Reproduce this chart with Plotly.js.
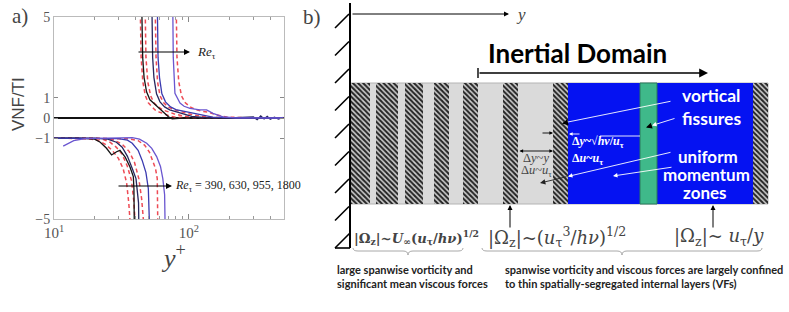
<!DOCTYPE html>
<html><head><meta charset="utf-8">
<script src="https://cdn.plot.ly/plotly-3.0.1.min.js"></script>
<style>html,body{margin:0;padding:0;background:#fff}#chart{width:789px;height:312px}</style>
</head><body><div id="chart"></div>
<script>
// ---------- Panel a data: VNF/TI vs y+ ----------
const reTau = [390, 630, 955, 1800];
const xTickVals = [10, 100];
const xTickText = ['10<sup>1</sup>', '10<sup>2</sup>'];
const yTickVals = [-5, -1, 0, 1, 5];
const yTickText = ['\u22125', '\u22121', '0', '1', '5'];

// upper branch (solid)
const upX390 = [44.0, 44.6, 45.4, 46.5, 48.5, 51.4, 54.5, 57.6, 61, 64.6, 70.4, 75, 90, 120, 200, 300, 500];
const upY390 = [8, 5, 3, 2, 1.3, 0.9, 0.75, 0.6, 0.45, 0.31, 0.06, -0.04, 0, 0, 0, 0.02, 0];
const upX630 = [52.5, 53, 53.8, 55, 57.5, 61, 66, 72, 80, 90, 105, 130, 200, 300, 320, 340, 360, 380, 400, 430, 460, 500];
const upY630 = [8, 5, 3, 2, 1.2, 0.8, 0.55, 0.4, 0.3, 0.2, 0.08, 0.02, 0, 0.05, -0.08, 0.1, -0.05, 0.08, -0.06, 0.04, -0.05, 0.03];
const upX955 = [57.6, 58.2, 59, 60.5, 63, 67, 73, 80, 90, 105, 120, 150, 250, 500];
const upY955 = [8, 5, 3, 2, 1.2, 0.8, 0.55, 0.42, 0.35, 0.25, 0.15, 0.04, 0, 0];
const upX1800 = [75.2, 75.7, 76.5, 78.7, 82, 85.8, 92, 101.7, 120.5, 135, 150.6, 178.5, 220, 300, 500];
const upY1800 = [8, 5, 3, 1.22, 0.95, 0.74, 0.58, 0.48, 0.4, 0.4, 0.23, 0.06, 0.01, 0, 0];
// upper branch (dashed)
const upDX390 = [42.9, 43.4, 44.2, 45.5, 47.5, 50, 53, 56, 60, 65, 72, 80, 100, 200, 500];
const upDY390 = [8, 5, 3, 1.8, 1.1, 0.75, 0.55, 0.4, 0.3, 0.2, 0.1, 0.04, 0, 0, 0];
const upDX630 = [46.7, 47.2, 48, 49.5, 52, 55, 59, 64, 70, 78, 90, 110, 200, 500];
const upDY630 = [8, 5, 3, 1.8, 1.1, 0.75, 0.55, 0.4, 0.3, 0.2, 0.1, 0.03, 0, 0];
const upDX955 = [55.4, 56, 57, 58.5, 61, 65, 70, 77, 86, 98, 115, 140, 250, 500];
const upDY955 = [8, 5, 3, 1.8, 1.1, 0.75, 0.55, 0.42, 0.32, 0.22, 0.12, 0.03, 0, 0];
const upDX1800 = [79.4, 80.2, 81.5, 84, 88, 94, 102, 112, 125, 140, 160, 190, 300, 500];
const upDY1800 = [8, 5, 3, 1.8, 1.1, 0.75, 0.55, 0.42, 0.33, 0.28, 0.15, 0.05, 0, 0];

// lower branch (solid)
const loX390 = [10, 15, 20, 22, 24.5, 26.7, 29.1, 30.8, 33.6, 36.5, 38.7, 39.1, 39.3, 39.5];
const loY390 = [-1, -1, -1.05, -1.2, -1.5, -1.83, -1.67, -1.6, -1.92, -2.41, -2.9, -3.5, -5, -8];
const loX630 = [10, 15, 20, 25, 29, 32, 35, 38, 40.5, 42.3, 42.8, 43];
const loY630 = [-1, -1, -1, -1.05, -1.2, -1.45, -1.9, -2.5, -3.0, -4.2, -5, -8];
const loX955 = [10, 15, 20, 25, 30, 35, 38, 42, 45, 48, 50, 50.8, 51];
const loY955 = [-1, -1, -1, -1, -1.02, -1.1, -1.25, -1.6, -2.1, -2.7, -3.5, -5, -8];
const loX1800 = [11.7, 12.5, 14, 17, 22, 30, 38, 43, 48.6, 53, 57.6, 61.5, 64, 66, 67.2, 67.5];
const loY1800 = [-1.39, -1.28, -1.12, -1.02, -1.0, -0.98, -0.97, -1.05, -1.25, -1.5, -1.91, -2.4, -3.0, -3.8, -5, -8];
// lower branch (dashed)
const loDX390 = [10, 14, 18, 21, 24, 27, 30, 32.5, 34.5, 35.8, 36.5, 36.7];
const loDY390 = [-1, -1, -1.02, -1.1, -1.3, -1.6, -2.0, -2.5, -3.2, -4.2, -5, -8];
const loDX630 = [10, 15, 20, 23, 26, 29, 32, 35, 37.5, 39, 39.8, 40];
const loDY630 = [-1, -1, -1, -1.05, -1.2, -1.45, -1.8, -2.4, -3.1, -4.1, -5, -8];
const loDX955 = [10, 15, 20, 25, 28, 32, 36, 39.5, 42.5, 44.6, 45.9, 46.2];
const loDY955 = [-1, -1, -1, -1.02, -1.1, -1.3, -1.65, -2.2, -3.0, -4.0, -5, -8];
const loDX1800 = [10, 15, 20, 25, 30, 36, 42, 47, 51, 54, 56.5, 58.2, 59.1, 59.4];
const loDY1800 = [-1, -1, -1, -1, -1, -1.03, -1.12, -1.35, -1.7, -2.1, -2.5, -3.0, -5, -8];

// ---------- Panel b schematic: layer bands (y position in px of schematic) ----------
const bandLeft  = [350, 376, 405, 434, 463, 503, 553, 753];
const bandRight = [370, 398, 423, 449, 478, 518, 568, 768];
const layerTop = 83, layerBottom = 204;

// ---------- styles ----------
const solidColors = ['#151515', '#27275f', '#3a3ab0', '#6a56d0'];
const dashColor = '#ee4b55';

const traces = [];
const upS = [[upX390, upY390], [upX630, upY630], [upX955, upY955], [upX1800, upY1800]];
const upD = [[upDX390, upDY390], [upDX630, upDY630], [upDX955, upDY955], [upDX1800, upDY1800]];
const loS = [[loX390, loY390], [loX630, loY630], [loX955, loY955], [loX1800, loY1800]];
const loD = [[loDX390, loDY390], [loDX630, loDY630], [loDX955, loDY955], [loDX1800, loDY1800]];
reTau.forEach((re, i) => {
  [upD[i], loD[i]].forEach(s => traces.push({x: s[0], y: s[1], type: 'scatter', mode: 'lines', xaxis: 'x', yaxis: 'y',
    line: {color: dashColor, width: 1.5, dash: '4px,3px'}, name: 'model ' + re, hoverinfo: 'skip'}));
});
reTau.forEach((re, i) => {
  [upS[i], loS[i]].forEach(s => traces.push({x: s[0], y: s[1], type: 'scatter', mode: 'lines', xaxis: 'x', yaxis: 'y',
    line: {color: solidColors[i], width: 1.3}, name: 'Re ' + re, hoverinfo: 'skip'}));
});

// hatched bands
traces.push({
  type: 'bar', xaxis: 'x2', yaxis: 'y2',
  x: bandLeft.map((l, i) => (l + bandRight[i]) / 2),
  width: bandLeft.map((l, i) => bandRight[i] - l),
  y: bandLeft.map(() => layerBottom - layerTop),
  base: bandLeft.map(() => layerTop),
  marker: {color: '#cfcfcf', line: {width: 0},
    pattern: {shape: '\\', fgcolor: '#262626', bgcolor: '#d0d0d0', size: 3.6, solidity: 0.55}},
  hoverinfo: 'skip'
});

const X = 'x2', Y = 'y2';
function arrow(hx, hy, tx, ty, o) {
  o = o || {};
  return Object.assign({x: hx, y: hy, ax: tx, ay: ty, xref: X, yref: Y, axref: X, ayref: Y, text: '',
    showarrow: true, arrowhead: 2, arrowsize: 1, arrowwidth: 1.1, arrowcolor: '#000', standoff: 0}, o);
}
function txt(x, y, text, o) {
  o = o || {};
  return Object.assign({x: x, y: y, xref: X, yref: Y, text: text, showarrow: false,
    xanchor: 'center', yanchor: 'middle', font: {family: 'Liberation Serif', size: 12, color: '#000'}}, o);
}
const serif = 'Liberation Serif';
const mserif = 'DejaVu Serif';
const sans = 'Lato';

const annotations = [
  // panel a
  txt(20, 16, 'a)', {font: {family: serif, size: 21}}),
  txt(18, 104, 'VNF/TI', {textangle: -90, font: {family: 'Liberation Sans', size: 17}}),
  txt(173, 256, '<i>y</i><sup>+</sup>', {font: {family: serif, size: 26}}),
  arrow(190, 52, 137, 52, {arrowwidth: 1.2}),
  txt(195, 52, '<i>Re</i><sub>\u03c4</sub>', {xanchor: 'left', font: {family: serif, size: 13, color: '#222'}}),
  arrow(172, 186, 117, 186, {arrowwidth: 1.2}),
  txt(173, 186, '<i>Re</i><sub>\u03c4</sub> = 390, 630, 955, 1800', {xanchor: 'left', font: {family: serif, size: 12, color: '#222'}}),
  // panel b
  txt(312, 17, 'b)', {font: {family: serif, size: 21}}),
  arrow(509, 14, 351, 14, {arrowwidth: 1}),
  txt(521, 14, '<i>y</i>', {font: {family: serif, size: 17}}),
  txt(577, 53, '<b>Inertial Domain</b>', {font: {family: sans, size: 26, color: '#000'}}),
  arrow(708, 73, 478, 73, {arrowwidth: 1.6, arrowsize: 1.1}),
  txt(711, 95, '<b>vortical</b>', {font: {family: sans, size: 17.5, color: '#fff'}}),
  txt(711, 118, '<b>fissures</b>', {font: {family: sans, size: 17.5, color: '#fff'}}),
  txt(708, 156, '<b>uniform</b>', {font: {family: sans, size: 17, color: '#fff'}}),
  txt(706, 174, '<b>momentum</b>', {font: {family: sans, size: 17, color: '#fff'}}),
  txt(705, 192, '<b>zones</b>', {font: {family: sans, size: 17, color: '#fff'}}),
  txt(570, 142, '<b>\u0394<i>y</i>~\u221a<i>h\u03bd</i>/<i>u</i><sub>\u03c4</sub></b>', {xanchor: 'left', font: {family: serif, size: 12, color: '#fff'}}),
  txt(570, 159, '<b>\u0394<i>u</i>~<i>u</i><sub>\u03c4</sub></b>', {xanchor: 'left', font: {family: serif, size: 12, color: '#fff'}}),
  txt(536, 158, '\u0394<i>y</i>~<i>y</i>', {font: {family: serif, size: 12.5}}),
  txt(536, 171, '\u0394<i>u</i>~<i>u</i><sub>\u03c4</sub>', {font: {family: serif, size: 12.5}}),
  arrow(553, 151, 518, 151, {arrowside: 'end+start', arrowwidth: 0.9, arrowhead: 2, arrowsize: 0.8}),
  arrow(553, 133, 541, 133, {arrowwidth: 0.9, arrowsize: 0.8}),
  arrow(569, 134, 581, 134, {arrowwidth: 0.9, arrowsize: 0.8, arrowcolor: '#fff'}),
  arrow(563, 123, 672, 101, {arrowwidth: 0.9, arrowcolor: '#fff', arrowsize: 0.1}),
  arrow(562, 123.5, 569, 122, {arrowwidth: 1, arrowcolor: '#000', arrowsize: 1.2}),
  arrow(652, 125.5, 676, 118, {arrowwidth: 0.9, arrowcolor: '#fff', arrowsize: 0.1}),
  arrow(646, 127.5, 653, 125.3, {arrowwidth: 1, arrowcolor: '#000', arrowsize: 1.2}),
  arrow(568, 176.4, 672, 152, {arrowwidth: 0.9, arrowcolor: '#fff', arrowsize: 0.1}),
  arrow(540, 183, 568, 176.4, {arrowwidth: 0.9, arrowcolor: '#222', arrowsize: 1.2}),
  arrow(613, 176, 673, 167, {arrowwidth: 0.9, arrowcolor: '#fff', arrowsize: 1}),
  arrow(510, 205, 510, 229, {arrowwidth: 1, arrowsize: 1}),
  arrow(713, 205, 713, 229, {arrowwidth: 1, arrowsize: 1}),
  txt(352, 237, '<b>|\u03a9<sub>z</sub>|~<i>U</i><sub>\u221e</sub>(<i>u</i><sub>\u03c4</sub>/<i>h\u03bd</i>)<sup>1/2</sup></b>', {xanchor: 'left', font: {family: mserif, size: 13.2}}),
  txt(486, 237, '|\u03a9<sub>z</sub>|~(<i>u</i><sub>\u03c4</sub><sup>3</sup>/<i>h\u03bd</i>)<sup>1/2</sup>', {xanchor: 'left', font: {family: mserif, size: 18}}),
  txt(672, 237, '|\u03a9<sub>z</sub>|~ <i>u</i><sub>\u03c4</sub>/<i>y</i>', {xanchor: 'left', font: {family: mserif, size: 18}}),
  txt(335, 269, '<b>large spanwise vorticity and</b>', {xanchor: 'left', font: {family: sans, size: 11, color: '#222'}}),
  txt(335, 283, '<b>significant mean viscous forces</b>', {xanchor: 'left', font: {family: sans, size: 11, color: '#222'}}),
  txt(503, 269, '<b>spanwise vorticity and viscous forces are largely confined</b>', {xanchor: 'left', font: {family: sans, size: 11, color: '#222'}}),
  txt(503, 283, '<b>to thin spatially-segregated internal layers (VFs)</b>', {xanchor: 'left', font: {family: sans, size: 11, color: '#222'}})
];

function line(x0, y0, x1, y1, color, w) {
  return {type: 'line', xref: X, yref: Y, x0: x0, y0: y0, x1: x1, y1: y1, line: {color: color || '#000', width: w || 1}};
}
function brace(a, b, y) {
  const m = (a + b) / 2;
  const p = `M ${a},${y - 3} Q ${a},${y} ${a + 5},${y} L ${m - 5},${y} Q ${m},${y} ${m},${y + 4} Q ${m},${y} ${m + 5},${y} L ${b - 5},${y} Q ${b},${y} ${b},${y - 3}`;
  return {type: 'path', xref: X, yref: Y, path: p, line: {color: '#a8a8a8', width: 1}};
}
const wallMarks = [28, 55.5, 83, 110.5, 138, 165.5, 193, 220.5];
const shapes = [
  {type: 'rect', xref: X, yref: Y, x0: 350, x1: 768, y0: layerTop, y1: layerBottom, fillcolor: '#dadada', line: {color: '#b4b4b4', width: 1}, layer: 'below'},
  {type: 'rect', xref: X, yref: Y, x0: 568, x1: 753, y0: layerTop, y1: layerBottom, fillcolor: '#0512f2', line: {width: 0}},
  {type: 'rect', xref: X, yref: Y, x0: 640, x1: 657, y0: layerTop, y1: layerBottom, fillcolor: '#3fb98a', line: {color: '#2a7a5c', width: 1}},
  line(350, 3, 350, 248, '#000', 2),
  line(335, 248, 350, 233, '#000', 1.6),
  line(335, 248, 350, 248, '#000', 1.6),
  line(478, 68, 478, 78, '#000', 1.4),
  line(600, 136, 640, 136, '#fff', 0.9),
  brace(353, 463, 251),
  brace(482, 762, 251)
];
wallMarks.forEach(yb => shapes.push(line(335, yb, 349, yb - 14, '#000', 1.6)));

const layout = {
  width: 789, height: 312,
  margin: {l: 0, r: 0, t: 0, b: 0},
  paper_bgcolor: '#fff', plot_bgcolor: 'rgba(0,0,0,0)',
  showlegend: false, barmode: 'overlay',
  xaxis: {type: 'log', domain: [54 / 789, 284 / 789], range: [1, 2.704], anchor: 'y',
    tickvals: xTickVals, ticktext: xTickText, ticks: 'inside', ticklen: 5, tickcolor: '#888',
    showline: true, linecolor: '#bbb', linewidth: 1, mirror: 'ticks', showgrid: false, zeroline: false,
    tickfont: {family: serif, size: 15, color: '#555'},
    minor: {tickvals: [20, 30, 40, 50, 60, 70, 80, 90, 200, 300, 400], ticks: 'inside', ticklen: 3, tickcolor: '#999', showgrid: false}},
  yaxis: {domain: [1 - 219 / 312, 1 - 17 / 312], range: [-5, 5], anchor: 'x',
    tickvals: yTickVals, ticktext: yTickText, ticks: 'inside', ticklen: 4, tickcolor: '#888',
    showline: true, linecolor: '#bbb', linewidth: 1, mirror: 'ticks', showgrid: false,
    zeroline: true, zerolinecolor: '#111', zerolinewidth: 1.3,
    tickfont: {family: serif, size: 14, color: '#555'}},
  xaxis2: {domain: [0, 1], range: [0, 789], visible: false, anchor: 'y2', fixedrange: true},
  yaxis2: {domain: [0, 1], range: [312, 0], visible: false, anchor: 'x2', fixedrange: true},
  shapes: shapes,
  annotations: annotations
};

Plotly.newPlot('chart', traces, layout, {staticPlot: true, displayModeBar: false});
</script></body></html>
